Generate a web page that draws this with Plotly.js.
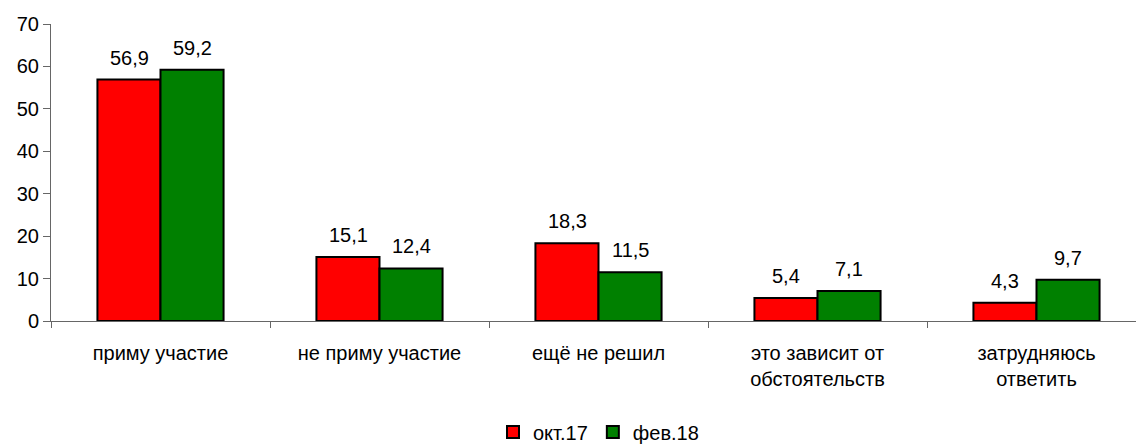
<!DOCTYPE html>
<html>
<head>
<meta charset="utf-8">
<script src="https://cdn.plot.ly/plotly-3.0.1.min.js"></script>
<style>
html, body { margin: 0; padding: 0; overflow: hidden; background: #fff; }
#chart { width: 1146px; height: 444px; }
</style>
</head>
<body>
<div id="chart"></div>
<script>
const categories = ["приму участие", "не приму участие", "ещё не решил", "это зависит от<br>обстоятельств", "затрудняюсь<br>ответить"];
const seriesNames = ["окт.17", "фев.18"];
const oct17 = [56.9, 15.1, 18.3, 5.4, 4.3];
const feb18 = [59.2, 12.4, 11.5, 7.1, 9.7];
const colors = ["#ff0000", "#008000"];
const yTicks = [0, 10, 20, 30, 40, 50, 60, 70];

const FONT = "Arial, 'Liberation Sans', sans-serif";
const seriesValues = [oct17, feb18];

const traces = seriesValues.map((vals, i) => ({
  type: "bar",
  name: seriesNames[i],
  x: categories,
  y: vals,
  marker: { color: colors[i], line: { color: "#000", width: 2 } },
  hoverinfo: "skip"
}));

const fmt = v => v.toFixed(1).replace(".", ",");
const annotations = [];
seriesValues.forEach((vals, i) => {
  vals.forEach((v, j) => {
    annotations.push({
      x: categories[j], y: v, xref: "x", yref: "y",
      xshift: i === 0 ? -31.5 : 31.5, yshift: 9,
      yanchor: "bottom", xanchor: "center",
      text: fmt(v), showarrow: false,
      font: { family: FONT, size: 20, color: "#000" }
    });
  });
});

const layout = {
  width: 1146, height: 444,
  margin: { l: 51, r: 0, t: 24, b: 123, autoexpand: false },
  paper_bgcolor: "#fff", plot_bgcolor: "#fff",
  font: { family: FONT, size: 20, color: "#000" },
  barmode: "group",
  bargap: 0.424, bargroupgap: 0,
  showlegend: true,
  legend: {
    orientation: "h", x: 0.5, xanchor: "center", y: -0.374, yanchor: "middle",
    font: { family: FONT, size: 20, color: "#000" },
    itemwidth: 30, traceorder: "normal"
  },
  xaxis: {
    type: "category",
    showline: true, linecolor: "#666", linewidth: 1,
    ticks: "outside", tickson: "boundaries", ticklen: 6, tickcolor: "#666",
    showgrid: false, zeroline: false,
    ticklabelstandoff: 14,
    tickfont: { family: FONT, size: 20, color: "#000" },
    fixedrange: true
  },
  yaxis: {
    range: [0, 70],
    tickvals: yTicks,
    showline: true, linecolor: "#666", linewidth: 1,
    ticks: "outside", ticklen: 7, tickcolor: "#666",
    showgrid: false, zeroline: false,
    tickfont: { family: FONT, size: 20, color: "#000" },
    fixedrange: true
  },
  annotations: annotations
};

Plotly.newPlot("chart", traces, layout, { displayModeBar: false, staticPlot: true });
</script>
</body>
</html>
